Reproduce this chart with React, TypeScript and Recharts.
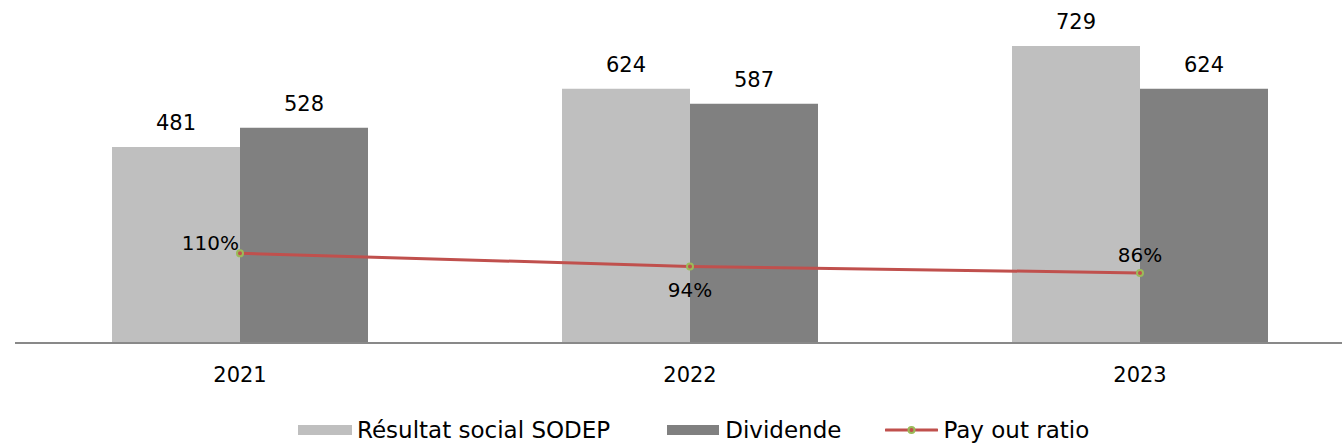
import { ComposedChart, Bar, Line, XAxis, YAxis, LabelList } from "recharts";

const years = ["2021", "2022", "2023"];
const resultatSocial = [481, 624, 729];
const dividende = [528, 587, 624];
const payOutRatio = [110, 94, 86];

const data = years.map((year, i) => ({
  year,
  resultat: resultatSocial[i],
  dividende: dividende[i],
  ratio: payOutRatio[i],
}));

const FONT = "'DejaVu Sans', sans-serif";
const LIGHT = "#bfbfbf";
const DARK = "#808080";
const RED = "#c0504d";
const GREEN = "#9bbb59";

// the ratio labels sit in different spots around each point
function RatioLabel(props: any) {
  const { x, y, value, index } = props;
  let anchor: "end" | "middle" = "middle";
  let dx = 0;
  let dy = -11;
  if (index === 0) {
    anchor = "end";
    dx = -1;
    dy = -3;
  } else if (index === 1) {
    dy = 31;
  }
  return (
    <text
      x={x + dx}
      y={y + dy}
      textAnchor={anchor}
      fontSize={20}
      fontFamily={FONT}
      fill="#000"
    >
      {`${value}%`}
    </text>
  );
}

function LegendBox() {
  const text = { fontSize: 23, fontFamily: FONT, color: "#000", lineHeight: "24px" };
  return (
    <div
      style={{
        position: "absolute",
        left: 298,
        top: 418,
        display: "flex",
        alignItems: "center",
        whiteSpace: "nowrap",
      }}
    >
      <div style={{ width: 54, height: 10, background: LIGHT, marginRight: 5 }} />
      <span style={text}>Résultat social SODEP</span>
      <div style={{ width: 52, height: 10, background: DARK, marginLeft: 57, marginRight: 6 }} />
      <span style={text}>Dividende</span>
      <svg width={53} height={12} style={{ marginLeft: 44, marginRight: 5 }}>
        <line x1={1} y1={6} x2={52} y2={6} stroke={RED} strokeWidth={3} strokeLinecap="round" />
        <circle cx={26.5} cy={6} r={3} fill={RED} stroke={GREEN} strokeWidth={2} />
      </svg>
      <span style={text}>Pay out ratio</span>
    </div>
  );
}

export default function App() {
  return (
    <div
      style={{
        position: "absolute",
        left: 0,
        top: 0,
        width: 1342,
        height: 448,
        overflow: "hidden",
        background: "#fff",
      }}
    >
      <ComposedChart
        width={1380}
        height={448}
        data={data}
        margin={{ top: 17, right: 15, bottom: 75, left: 15 }}
        barGap={0}
      >
        <XAxis
          dataKey="year"
          height={30}
          tickLine={false}
          tickSize={0}
          tickMargin={24}
          axisLine={{ stroke: "#898989", strokeWidth: 2 }}
          tick={{ fill: "#000", fontSize: 21, fontFamily: FONT }}
        />
        <YAxis yAxisId="left" hide domain={[0, 800]} />
        <YAxis yAxisId="right" hide orientation="right" domain={[0, 400]} />
        <Bar yAxisId="left" dataKey="resultat" fill={LIGHT} barSize={128} isAnimationActive={false}>
          <LabelList
            dataKey="resultat"
            position="top"
            offset={17}
            fill="#000"
            fontSize={21}
            fontFamily={FONT}
          />
        </Bar>
        <Bar yAxisId="left" dataKey="dividende" fill={DARK} barSize={128} isAnimationActive={false}>
          <LabelList
            dataKey="dividende"
            position="top"
            offset={17}
            fill="#000"
            fontSize={21}
            fontFamily={FONT}
          />
        </Bar>
        <Line
          yAxisId="right"
          dataKey="ratio"
          stroke={RED}
          strokeWidth={3}
          dot={{ r: 3, fill: RED, stroke: GREEN, strokeWidth: 2 }}
          activeDot={false}
          isAnimationActive={false}
        >
          <LabelList dataKey="ratio" content={RatioLabel} />
        </Line>
      </ComposedChart>
      <LegendBox />
    </div>
  );
}
